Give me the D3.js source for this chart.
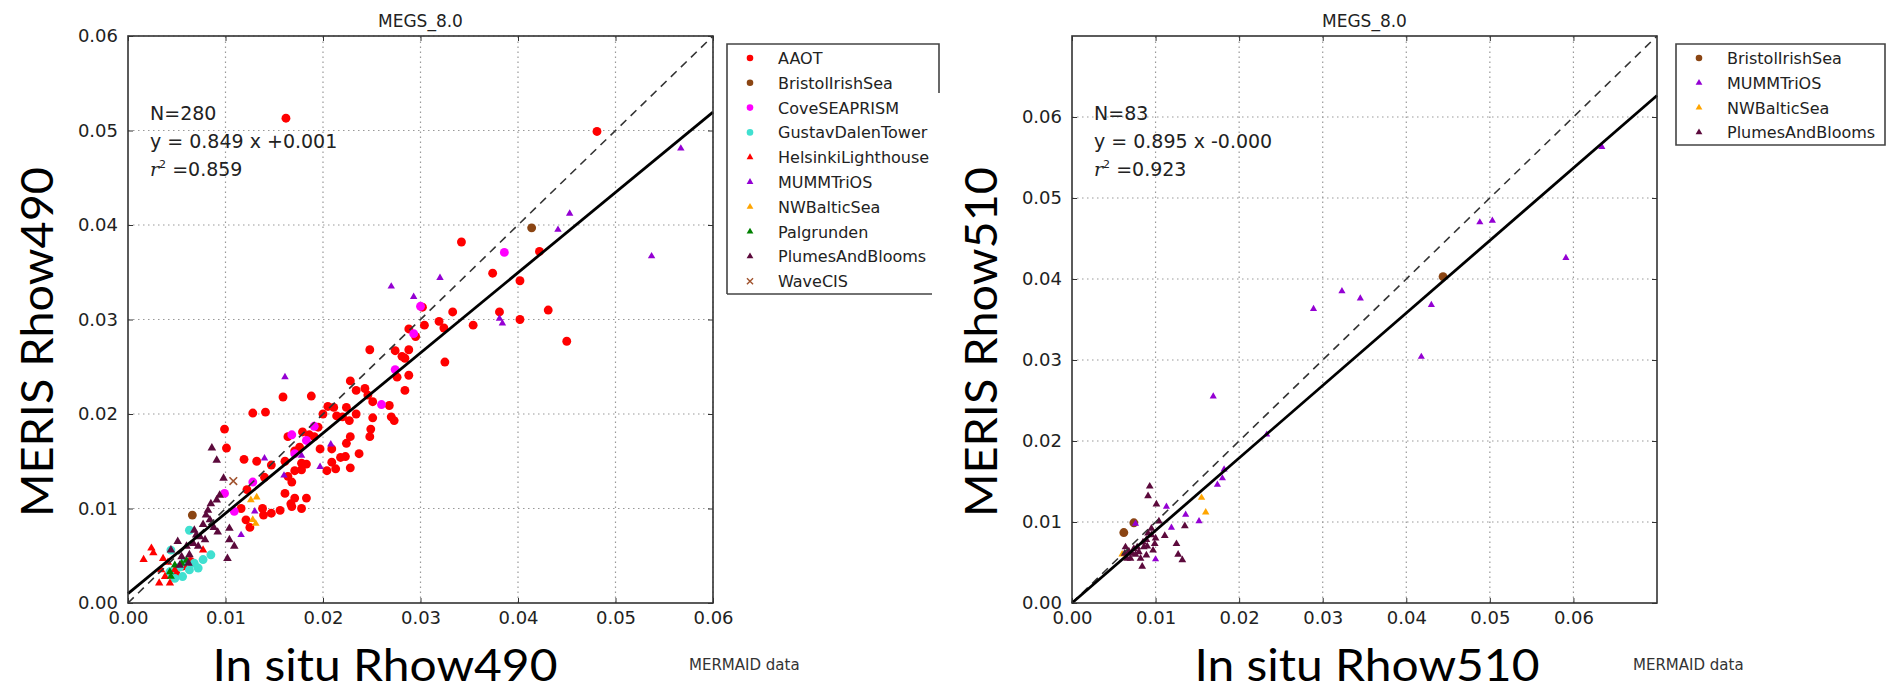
<!DOCTYPE html>
<html>
<head>
<meta charset="utf-8">
<title>MEGS_8.0 - MERIS vs in situ Rhow490 / Rhow510</title>
<script src="https://cdn.jsdelivr.net/npm/d3@7"></script>
<style>
  body { margin: 0; background: #fff; }
  .tick text { font: 18px "DejaVu Sans", sans-serif; fill: #222; }
  .tick line { stroke: #333; stroke-width: 1; }
  .grid line { stroke: #999; stroke-width: 1.2; stroke-dasharray: 1.5,3.5; }
  .frame { fill: none; stroke: #333; stroke-width: 1.6; }
  .title { font: 17px "DejaVu Sans", sans-serif; fill: #222; text-anchor: middle; }
  .stats { font: 19px "DejaVu Sans", sans-serif; fill: #222; }
  .biglabel { font: 45px Lato, "Open Sans", sans-serif; fill: #000; text-anchor: middle; }
  .source { font: 15px "DejaVu Sans", sans-serif; fill: #333; }
  .legend text { font: 16px "DejaVu Sans", sans-serif; fill: #222; }
</style>
</head>
<body>
<script>
// ---- data (x = in situ, y = MERIS) ----

// Rhow490 panel
var aaot490 = [
  [0.0333,0.0308],[0.0354,0.0294],[0.0319,0.0298],[0.0324,0.0291],[0.0304,0.0294],[0.0288,0.0290],
  [0.0295,0.0282],[0.0302,0.0313],[0.0248,0.0268],[0.0274,0.0267],[0.0281,0.0261],[0.0288,0.0268],
  [0.0284,0.0259],[0.0325,0.0255],[0.0228,0.0235],[0.0276,0.0239],[0.0288,0.0241],[0.0284,0.0225],
  [0.0234,0.0225],[0.0243,0.0227],[0.0246,0.0220],[0.0205,0.0208],[0.0211,0.0207],[0.0224,0.0207],
  [0.0251,0.0213],[0.0268,0.0209],[0.0159,0.0218],[0.0188,0.0219],[0.0128,0.0201],[0.0141,0.0202],
  [0.0200,0.0200],[0.0214,0.0198],[0.0220,0.0197],[0.0234,0.0200],[0.0251,0.0196],[0.0270,0.0197],
  [0.0273,0.0193],[0.0227,0.0193],[0.0195,0.0186],[0.0099,0.0184],[0.0249,0.0184],[0.0248,0.0176],
  [0.0228,0.0176],[0.0224,0.0169],[0.0209,0.0163],[0.0164,0.0176],[0.0179,0.0181],[0.0186,0.0178],
  [0.0176,0.0165],[0.0191,0.0176],[0.0171,0.0161],[0.0101,0.0164],[0.0119,0.0152],[0.0132,0.0150],
  [0.0147,0.0146],[0.0161,0.0150],[0.0197,0.0163],[0.0237,0.0158],[0.0218,0.0154],[0.0223,0.0155],
  [0.0209,0.0149],[0.0228,0.0143],[0.0204,0.0140],[0.0213,0.0142],[0.0178,0.0148],[0.0183,0.0147],
  [0.0178,0.0141],[0.0171,0.0140],[0.0168,0.0128],[0.0164,0.0134],[0.0161,0.0116],[0.0171,0.0111],
  [0.0168,0.0102],[0.0183,0.0111],[0.0140,0.0133],[0.0122,0.0120],[0.0156,0.0098],[0.0147,0.0095],
  [0.0139,0.0093],[0.0138,0.0100],[0.0121,0.0088],[0.0125,0.0080],[0.0116,0.0100],[0.0167,0.0105],
  [0.0178,0.0100],[0.0162,0.0513],[0.0481,0.0499],[0.0342,0.0382],[0.0422,0.0372],[0.0374,0.0349],
  [0.0402,0.0341],[0.0381,0.0308],[0.0431,0.0310],[0.0402,0.0300],[0.0450,0.0277],[0.0056,0.0039],
  [0.0049,0.0031],[0.0064,0.0044]
];
var bristol490 = [[0.0414,0.0397],[0.0066,0.0093]];
var cove490 = [
  [0.0386,0.0371],[0.0300,0.0314],[0.0293,0.0285],[0.0274,0.0247],[0.0260,0.0210],[0.0191,0.0187],
  [0.0168,0.0178],[0.0183,0.0172],[0.0171,0.0158],[0.0128,0.0128],[0.0099,0.0116],[0.0109,0.0097]
];
var gustav490 = [
  [0.0063,0.0077],[0.0044,0.0056],[0.0085,0.0051],[0.0077,0.0046],[0.0072,0.0037],[0.0063,0.0035],
  [0.0056,0.0028],[0.0048,0.0026],[0.0043,0.0033],[0.0053,0.0038],[0.0068,0.0042],[0.0058,0.0044]
];
var helsinki490 = [
  [0.0024,0.0058],[0.0026,0.0053],[0.0016,0.0046],[0.0036,0.0047],[0.0034,0.0035],[0.0032,0.0021],
  [0.0043,0.0021],[0.0038,0.0028],[0.0048,0.0035],[0.0077,0.0056],[0.0041,0.0043]
];
var mumm490 = [
  [0.0567,0.0481],[0.0537,0.0367],[0.0453,0.0412],[0.0441,0.0395],[0.0381,0.0301],[0.0384,0.0296],
  [0.0270,0.0335],[0.0320,0.0344],[0.0293,0.0324],[0.0161,0.0239],[0.0208,0.0168],[0.0197,0.0144],
  [0.0140,0.0153],[0.0178,0.0156],[0.0160,0.0135],[0.0130,0.0097],[0.0116,0.0072]
];
var nwbaltic490 = [[0.0126,0.0109],[0.0132,0.0112],[0.0128,0.0088],[0.0131,0.0084]];
var palgrunden490 = [[0.0043,0.0033],[0.0048,0.0040],[0.0055,0.0042],[0.0060,0.0045],[0.0044,0.0028]];
var plumes490 = [
  [0.0086,0.0164],[0.0091,0.0151],[0.0098,0.0132],[0.0085,0.0105],[0.0082,0.0098],[0.0084,0.0088],
  [0.0077,0.0083],[0.0068,0.0077],[0.0074,0.0070],[0.0067,0.0063],[0.0051,0.0065],[0.0044,0.0056],
  [0.0055,0.0049],[0.0063,0.0051],[0.0072,0.0060],[0.0079,0.0067],[0.0092,0.0075],[0.0104,0.0067],
  [0.0109,0.0060],[0.0102,0.0047],[0.0104,0.0079],[0.0091,0.0109],[0.0094,0.0114],[0.0062,0.0042],
  [0.0053,0.0040],[0.0080,0.0093],[0.0070,0.0072],[0.0060,0.0060],[0.0088,0.0080]
];
var wavecis490 = [[0.0108,0.0129]];

// Rhow510 panel
var bristol510 = [[0.0444,0.0403],[0.0062,0.0087],[0.0074,0.0099]];
var mumm510 = [
  [0.0634,0.0563],[0.0488,0.0470],[0.0503,0.0472],[0.0591,0.0426],[0.0323,0.0385],[0.0345,0.0376],
  [0.0289,0.0363],[0.0430,0.0368],[0.0418,0.0304],[0.0169,0.0255],[0.0233,0.0208],[0.0182,0.0165],
  [0.0180,0.0154],[0.0174,0.0146],[0.0113,0.0119],[0.0136,0.0109],[0.0152,0.0101],[0.0119,0.0093],
  [0.0100,0.0054],[0.0076,0.0098]
];
var nwbaltic510 = [[0.0155,0.0130],[0.0160,0.0112],[0.0060,0.0060]];
var plumes510 = [
  [0.0093,0.0144],[0.0091,0.0132],[0.0101,0.0122],[0.0104,0.0101],[0.0135,0.0095],[0.0111,0.0083],
  [0.0125,0.0073],[0.0099,0.0073],[0.0095,0.0084],[0.0095,0.0092],[0.0089,0.0078],[0.0086,0.0069],
  [0.0078,0.0069],[0.0072,0.0061],[0.0064,0.0069],[0.0063,0.0061],[0.0070,0.0055],[0.0082,0.0055],
  [0.0084,0.0045],[0.0127,0.0060],[0.0132,0.0053],[0.0089,0.0059],[0.0097,0.0065],[0.0080,0.0063],
  [0.0074,0.0067],[0.0066,0.0055],[0.0091,0.0086],[0.0076,0.0060],[0.0085,0.0075],[0.0090,0.0070],
  [0.0100,0.0080],[0.0068,0.0064]
];

// axis ticks
var ticks490 = [0, 0.01, 0.02, 0.03, 0.04, 0.05, 0.06];
var ticks510 = [0, 0.01, 0.02, 0.03, 0.04, 0.05, 0.06];

// regression results printed on the plots
var fit490 = {n: 280, slope: 0.849, icpt: 0.001, r2: "0.859", eq: "y = 0.849 x +0.001"};
var fit510 = {n: 83, slope: 0.895, icpt: 0.000, r2: "0.923", eq: "y = 0.895 x -0.000"};

// ---- site styles ----
var sites = {
  AAOT:              {color: "#ff0000", shape: "circle"},
  BristolIrishSea:   {color: "#8b4513", shape: "circle"},
  CoveSEAPRISM:      {color: "#ff00ff", shape: "circle"},
  GustavDalenTower:  {color: "#40e0d0", shape: "circle"},
  HelsinkiLighthouse:{color: "#ff0000", shape: "triangle"},
  MUMMTriOS:         {color: "#9400d3", shape: "triangle"},
  NWBalticSea:       {color: "#ffa500", shape: "triangle"},
  Palgrunden:        {color: "#008000", shape: "triangle"},
  PlumesAndBlooms:   {color: "#5c0a3c", shape: "triangle"},
  WaveCIS:           {color: "#a0522d", shape: "x"}
};

var svg = d3.select("body").append("svg")
    .attr("width", 1888)
    .attr("height", 692);

function symbolPath(shape, size) {
  var type = shape == "circle" ? d3.symbolCircle : (shape == "triangle" ? d3.symbolTriangle : d3.symbolTimes);
  return d3.symbol().type(type).size(size)();
}

function drawPanel(p) {
  var x = d3.scaleLinear().domain([0, p.max]).range([p.left, p.right]);
  var y = d3.scaleLinear().domain([0, p.max]).range([603, 36]);
  var g = svg.append("g");

  // dotted grid
  var grid = g.append("g").attr("class", "grid");
  grid.selectAll(".gx").data(p.ticks.slice(1)).enter().append("line")
    .attr("x1", function(d) { return x(d); }).attr("x2", function(d) { return x(d); })
    .attr("y1", y(0)).attr("y2", y(p.max));
  grid.selectAll(".gy").data(p.ticks.slice(1)).enter().append("line")
    .attr("y1", function(d) { return y(d); }).attr("y2", function(d) { return y(d); })
    .attr("x1", x(0)).attr("x2", x(p.max));

  // axes with inward ticks
  var fmt = d3.format(".2f");
  g.append("g").attr("transform", "translate(0," + y(0) + ")")
    .call(d3.axisBottom(x).tickValues(p.ticks).tickFormat(fmt).tickSizeInner(-5).tickSizeOuter(0).tickPadding(8))
    .call(function(a) { a.select(".domain").remove(); });
  g.append("g").attr("transform", "translate(" + x(0) + ",0)")
    .call(d3.axisLeft(y).tickValues(p.ticks).tickFormat(fmt).tickSizeInner(-5).tickSizeOuter(0).tickPadding(10))
    .call(function(a) { a.select(".domain").remove(); });
  g.append("g").attr("transform", "translate(0," + y(p.max) + ")")
    .call(d3.axisTop(x).tickValues(p.ticks).tickFormat("").tickSizeInner(-5).tickSizeOuter(0))
    .call(function(a) { a.select(".domain").remove(); });
  g.append("g").attr("transform", "translate(" + x(p.max) + ",0)")
    .call(d3.axisRight(y).tickValues(p.ticks).tickFormat("").tickSizeInner(-5).tickSizeOuter(0))
    .call(function(a) { a.select(".domain").remove(); });

  // points, in legend order
  p.series.forEach(function(s) {
    var st = sites[s.name];
    var size = st.shape == "circle" ? 62 : s.size;
    g.append("g").selectAll("path").data(s.values).enter().append("path")
      .attr("transform", function(d) { return "translate(" + x(d[0]) + "," + y(d[1]) + ")"; })
      .attr("d", symbolPath(st.shape, st.shape == "x" ? 40 : size))
      .attr("fill", st.shape == "x" ? "none" : st.color)
      .attr("stroke", st.shape == "x" ? st.color : "none")
      .attr("stroke-width", 1.6);
  });

  // 1:1 line and fitted line
  g.append("line")
    .attr("x1", x(0)).attr("y1", y(0)).attr("x2", x(p.max)).attr("y2", y(p.max))
    .attr("stroke", "#333").attr("stroke-width", 1.6).attr("stroke-dasharray", "8,6");
  g.append("line")
    .attr("x1", x(0)).attr("y1", y(p.fit.icpt))
    .attr("x2", x(p.max)).attr("y2", y(p.fit.slope * p.max + p.fit.icpt))
    .attr("stroke", "#000").attr("stroke-width", 2.8);

  g.append("rect").attr("class", "frame")
    .attr("x", x(0)).attr("y", y(p.max))
    .attr("width", x(p.max) - x(0)).attr("height", y(0) - y(p.max));

  g.append("text").attr("class", "title")
    .attr("x", (x(0) + x(p.max)) / 2).attr("y", 27).text("MEGS_8.0");

  // stats text
  var tx = x(0) + 22;
  g.append("text").attr("class", "stats").attr("x", tx).attr("y", 120).text("N=" + p.fit.n);
  g.append("text").attr("class", "stats").attr("x", tx).attr("y", 148).text(p.fit.eq);
  var r = g.append("text").attr("class", "stats").attr("x", tx).attr("y", 176);
  r.append("tspan").attr("font-family", "DejaVu Serif").attr("font-style", "italic").text("r");
  r.append("tspan").attr("font-size", "11px").attr("dy", -8).text("2");
  r.append("tspan").attr("dy", 8).text(" =" + p.fit.r2);

  // big axis labels
  g.append("text").attr("class", "biglabel")
    .attr("transform", "translate(" + (x(0) - 75) + ",342)rotate(-90)")
    .attr("textLength", 350).attr("lengthAdjust", "spacingAndGlyphs")
    .text(p.ylabel);
  g.append("text").attr("class", "biglabel")
    .attr("x", p.xlabelX).attr("y", 681)
    .attr("textLength", 345).attr("lengthAdjust", "spacingAndGlyphs")
    .text(p.xlabel);
  g.append("text").attr("class", "source")
    .attr("x", x(p.max) - 24).attr("y", 670).text("MERMAID data");

  // legend
  var lg = svg.append("g").attr("class", "legend");
  lg.append("path")
    .attr("d", p.legendFrame)
    .attr("fill", "none").attr("stroke", "#444").attr("stroke-width", 1.6);
  p.series.forEach(function(s, i) {
    var st = sites[s.name];
    var ly = 58 + i * 24.8;
    lg.append("path")
      .attr("transform", "translate(" + (p.legendX + 23) + "," + ly + ")")
      .attr("d", symbolPath(st.shape, st.shape == "circle" ? 34 : (st.shape == "x" ? 26 : 20)))
      .attr("fill", st.shape == "x" ? "none" : st.color)
      .attr("stroke", st.shape == "x" ? st.color : "none")
      .attr("stroke-width", 1.4);
    lg.append("text").attr("x", p.legendX + 51).attr("y", ly + 6).text(s.name);
  });
}

drawPanel({
  left: 128, right: 713, max: 0.06, ticks: ticks490, fit: fit490,
  ylabel: "MERIS Rhow490", xlabel: "In situ Rhow490", xlabelX: 385,
  legendX: 727, legendFrame: "M727,294V44H939V93M727,294H932",
  series: [
    {name: "AAOT", values: aaot490},
    {name: "BristolIrishSea", values: bristol490},
    {name: "CoveSEAPRISM", values: cove490},
    {name: "GustavDalenTower", values: gustav490},
    {name: "HelsinkiLighthouse", values: helsinki490, size: 30},
    {name: "MUMMTriOS", values: mumm490, size: 24},
    {name: "NWBalticSea", values: nwbaltic490, size: 26},
    {name: "Palgrunden", values: palgrunden490, size: 28},
    {name: "PlumesAndBlooms", values: plumes490, size: 32},
    {name: "WaveCIS", values: wavecis490}
  ]
});

drawPanel({
  left: 1072, right: 1657, max: 0.07, ticks: ticks510, fit: fit510,
  ylabel: "MERIS Rhow510", xlabel: "In situ Rhow510", xlabelX: 1367,
  legendX: 1676, legendFrame: "M1676,44H1885V145H1676Z",
  series: [
    {name: "BristolIrishSea", values: bristol510},
    {name: "MUMMTriOS", values: mumm510, size: 22},
    {name: "NWBalticSea", values: nwbaltic510, size: 24},
    {name: "PlumesAndBlooms", values: plumes510, size: 26}
  ]
});
</script>
</body>
</html>
